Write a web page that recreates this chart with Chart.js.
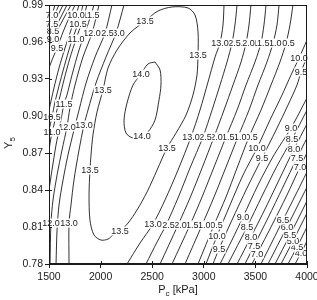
<!DOCTYPE html>
<html>
<head>
<meta charset="utf-8">
<script src="https://cdn.jsdelivr.net/npm/chart.js@4.4.0/dist/chart.umd.min.js"></script>
<style>
  html, body { margin: 0; padding: 0; background: #fff; }
  #wrap { width: 317px; height: 300px; }
</style>
</head>
<body>
<div id="wrap"><canvas id="chart"></canvas></div>
<script>
const xTicks = [1500, 2000, 2500, 3000, 3500, 4000];
const yTicks = [0.78, 0.81, 0.84, 0.87, 0.90, 0.93, 0.96, 0.99];

// contour level of every traced line
const levels = [14.0, 13.5,
  13.0, 12.5, 12.0, 11.5, 11.0, 10.5, 10.0, 9.5, 9.0, 8.5, 8.0, 7.5, 7.0,
  13.0, 12.5, 12.0, 11.5, 11.0, 10.5, 10.0, 9.5, 9.0, 8.5, 8.0, 7.5, 7.0,
  6.5, 6.0, 5.5, 5.0, 4.5, 4.0];

// traced lines, [P, Y5] pairs
const contourPts = [
  [[2527,.9438],[2576,.9373],[2585,.9251],[2566,.9130],[2527,.8967],[2459,.8870],[2401,.8838],[2314,.8822],[2246,.8862],[2227,.8967],[2256,.9105],[2314,.9251],[2391,.9340],[2459,.9422],[2527,.9438]],
  [[2430,.9770],[2285,.9673],[2159,.9535],[2072,.9389],[2023,.9210],[1965,.9032],[1926,.8846],[1907,.8684],[1897,.8562],[1888,.8359],[1897,.8156],[1936,.8035],[2004,.7994],[2072,.8002],[2120,.8035],[2188,.8067],[2266,.8132],[2353,.8238],[2450,.8384],[2547,.8562],[2643,.8740],[2731,.8862],[2828,.9008],[2895,.9170],[2934,.9332],[2944,.9495],[2944,.9681],[2915,.9819],[2847,.9876],[2692,.9884],[2556,.9851],[2430,.9770]],
  // left side
  [[2227,.9900],[2149,.9673],[2052,.9478],[1955,.9267],[1878,.9048],[1839,.8927],[1791,.8724],[1742,.8481],[1713,.8278],[1694,.8132],[1694,.7800]],
  [[2110,.9900],[2043,.9673],[1946,.9478],[1859,.9267],[1791,.9048],[1742,.8886],[1684,.8684],[1636,.8481],[1597,.8278],[1578,.8076],[1568,.7800]],
  [[1985,.9900],[1917,.9673],[1829,.9478],[1752,.9251],[1703,.9065],[1674,.8911],[1626,.8724],[1578,.8521],[1539,.8319],[1519,.8132],[1510,.7800]],
  [[1936,.9900],[1907,.9819],[1859,.9697],[1791,.9535],[1723,.9332],[1674,.9170],[1645,.9097],[1607,.8927],[1568,.8765],[1529,.8562],[1500,.8400]],
  [[1868,.9900],[1820,.9762],[1762,.9624],[1703,.9470],[1645,.9292],[1587,.9089],[1548,.8927],[1529,.8870],[1500,.8724]],
  [[1829,.9900],[1781,.9746],[1723,.9616],[1665,.9454],[1607,.9276],[1558,.9113],[1529,.8992],[1500,.8886]],
  [[1791,.9900],[1762,.9819],[1713,.9697],[1655,.9551],[1597,.9389],[1548,.9227],[1500,.9048]],
  [[1752,.9900],[1694,.9795],[1636,.9681],[1578,.9551],[1529,.9454],[1500,.9389]],
  [[1713,.9900],[1645,.9795],[1587,.9705],[1539,.9624],[1500,.9568]],
  [[1674,.9900],[1616,.9803],[1568,.9730],[1539,.9689],[1500,.9624]],
  [[1636,.9900],[1578,.9803],[1529,.9713],[1500,.9657]],
  [[1597,.9900],[1558,.9827],[1529,.9746],[1500,.9681]],
  [[1558,.9900],[1529,.9819],[1500,.9738]],
  // right side
  [[2256,.7800],[2382,.7970],[2508,.8124],[2624,.8319],[2750,.8562],[2876,.8830],[2963,.9048],[3041,.9276],[3109,.9478],[3157,.9592],[3186,.9738],[3196,.9900]],
  [[2440,.7800],[2547,.7978],[2634,.8116],[2750,.8335],[2866,.8578],[2992,.8830],[3080,.9048],[3157,.9251],[3225,.9438],[3273,.9592],[3302,.9738],[3322,.9900]],
  [[2576,.7800],[2750,.8116],[2866,.8335],[2983,.8578],[3099,.8830],[3196,.9048],[3283,.9251],[3361,.9438],[3409,.9592],[3438,.9738],[3457,.9900]],
  [[2692,.7800],[2866,.8116],[2983,.8343],[3099,.8586],[3215,.8830],[3322,.9048],[3409,.9251],[3496,.9438],[3554,.9592],[3583,.9738],[3603,.9900]],
  [[2818,.7800],[2983,.8116],[3099,.8343],[3215,.8586],[3331,.8830],[3438,.9048],[3525,.9251],[3612,.9438],[3671,.9592],[3709,.9738],[3729,.9900]],
  [[2944,.7800],[3099,.8116],[3215,.8343],[3322,.8578],[3438,.8830],[3554,.9048],[3651,.9251],[3738,.9438],[3797,.9592],[3835,.9738],[3864,.9900]],
  [[3021,.7800],[3128,.8027],[3254,.8278],[3380,.8521],[3516,.8740],[3641,.8967],[3758,.9170],[3845,.9332],[3923,.9470],[4000,.9616]],
  [[3089,.7800],[3147,.7921],[3273,.8156],[3419,.8416],[3564,.8659],[3700,.8886],[3816,.9089],[3903,.9251],[3942,.9357],[4000,.9478]],
  [[3157,.7800],[3273,.7994],[3380,.8181],[3525,.8440],[3680,.8684],[3845,.8902],[4000,.9146]],
  [[3234,.7800],[3419,.8100],[3564,.8351],[3709,.8594],[3855,.8813],[4000,.9048]],
  [[3322,.7800],[3457,.8019],[3603,.8262],[3738,.8497],[3874,.8732],[4000,.8935]],
  [[3399,.7800],[3486,.7946],[3622,.8173],[3767,.8424],[3903,.8659],[4000,.8822]],
  [[3467,.7800],[3516,.7881],[3661,.8116],[3806,.8359],[3932,.8586],[4000,.8700]],
  [[3554,.7800],[3661,.7978],[3767,.8156],[3884,.8351],[4000,.8546]],
  [[3622,.7800],[3806,.8100],[3903,.8262],[4000,.8424]],
  [[3690,.7800],[3835,.8035],[4000,.8311]],
  [[3748,.7800],[3864,.7986],[4000,.8213]],
  [[3816,.7800],[3903,.7938],[4000,.8100]],
  [[3884,.7800],[3942,.7889],[4000,.7986]]
];

// which points of each line carry the level label
const labelIdx = [
  [6, 12], [0, 4, 8, 15, 20, 25],
  [1, 5, 9], [1], [1, 5, 9], [1, 6], [2, 7], [1, 6], [1], [3], [3], [3], [], [2], [1],
  [2, 5, 9], [2, 5, 9], [1, 4, 8], [1, 4, 8], [1, 4, 8], [1, 4, 8], [1, 4, 8], [1, 4, 8],
  [2, 5], [1, 4], [1, 4], [1, 4], [1, 4], [2], [1], [1], [1], [1], [1]
];

const FONT = '"Liberation Sans", Arial, sans-serif';
const INK = '#1a1a1a';

const contourLabels = {
  id: 'contourLabels',
  afterDatasetsDraw(chart) {
    const ctx = chart.ctx;
    const items = [];
    chart.data.datasets.forEach((ds, i) => {
      const meta = chart.getDatasetMeta(i);
      labelIdx[i].forEach(k => {
        const pt = meta.data[k];
        items.push({ v: levels[i], x: pt.x, y: pt.y });
      });
    });
    // right to left, so a label covers the start of its right neighbour
    items.sort((a, b) => b.x - a.x);
    ctx.save();
    ctx.font = '9px ' + FONT;
    ctx.textAlign = 'center';
    ctx.textBaseline = 'middle';
    items.forEach(it => {
      const s = it.v.toFixed(1);
      const w = ctx.measureText(s).width;
      ctx.fillStyle = '#fff';
      ctx.fillRect(it.x - w / 2 - 0.5, it.y - 4.5, w + 1, 9);
      ctx.fillStyle = INK;
      ctx.fillText(s, it.x, it.y + 0.5);
    });
    ctx.restore();
  }
};

const frameAndTitles = {
  id: 'frameAndTitles',
  afterDraw(chart) {
    const ctx = chart.ctx;
    const a = chart.chartArea;
    const sx = chart.scales.x, sy = chart.scales.y;
    ctx.save();
    ctx.strokeStyle = INK;
    ctx.lineWidth = 1;
    ctx.strokeRect(Math.round(a.left) + 0.5, Math.round(a.top) + 0.5,
      Math.round(a.right - a.left) - 1, Math.round(a.bottom - a.top) - 1);
    ctx.beginPath();
    xTicks.forEach(v => {
      const x = Math.round(sx.getPixelForValue(v)) + 0.5;
      ctx.moveTo(x, a.bottom);
      ctx.lineTo(x, a.bottom - 3);
    });
    yTicks.forEach(v => {
      const y = Math.round(sy.getPixelForValue(v)) + 0.5;
      ctx.moveTo(a.left, y);
      ctx.lineTo(a.left + 3, y);
    });
    ctx.stroke();

    // x title: P_c [kPa]
    ctx.fillStyle = INK;
    ctx.textBaseline = 'alphabetic';
    ctx.textAlign = 'left';
    const big = '11px ' + FONT, small = '8px ' + FONT;
    ctx.font = big;
    const wP = ctx.measureText('P').width;
    const wRest = ctx.measureText(' [kPa]').width;
    ctx.font = small;
    const wSub = ctx.measureText('c').width;
    let x0 = (a.left + a.right) / 2 - (wP + wSub + wRest) / 2;
    const base = 293;
    ctx.font = big; ctx.fillText('P', x0, base);
    ctx.font = small; ctx.fillText('c', x0 + wP, base + 3);
    ctx.font = big; ctx.fillText(' [kPa]', x0 + wP + wSub, base);

    // y title: Y_5
    ctx.translate(12, 143);
    ctx.rotate(-Math.PI / 2);
    ctx.font = big;
    const wY = ctx.measureText('Y').width;
    ctx.font = small;
    const w5 = ctx.measureText('5').width;
    const y0 = -(wY + w5) / 2;
    ctx.font = big; ctx.fillText('Y', y0, 0);
    ctx.font = small; ctx.fillText('5', y0 + wY, 3);
    ctx.restore();
  }
};

const datasets = contourPts.map(pts => ({
  data: pts.map(p => ({ x: p[0], y: p[1] })),
  showLine: true,
  pointRadius: 0,
  borderColor: INK,
  borderWidth: 0.9,
  tension: 0.3,
  fill: false
}));

new Chart(document.getElementById('chart'), {
  type: 'scatter',
  data: { datasets: datasets },
  options: {
    responsive: true,
    maintainAspectRatio: false,
    animation: false,
    devicePixelRatio: 1,
    layout: { padding: { top: 5, right: 10, left: 0, bottom: 0 } },
    plugins: { legend: { display: false }, tooltip: { enabled: false } },
    scales: {
      x: {
        type: 'linear',
        min: 1500,
        max: 4000,
        afterBuildTicks: s => { s.ticks = xTicks.map(v => ({ value: v })); },
        afterFit: s => { s.height = 36; s.paddingLeft = 0; s.paddingRight = 0; },
        ticks: {
          color: INK,
          padding: 3,
          maxRotation: 0,
          autoSkip: false,
          font: { family: FONT, size: 10.5 },
          callback: v => String(v)
        },
        grid: { drawOnChartArea: false, drawTicks: true, tickLength: 4, color: INK },
        border: { color: INK, width: 1 }
      },
      y: {
        type: 'linear',
        min: 0.78,
        max: 0.99,
        afterBuildTicks: s => { s.ticks = yTicks.map(v => ({ value: v })); },
        afterFit: s => { s.width = 49; s.paddingTop = 0; s.paddingBottom = 0; },
        ticks: {
          color: INK,
          padding: 2,
          autoSkip: false,
          font: { family: FONT, size: 10.5 },
          callback: v => v.toFixed(2)
        },
        grid: { drawOnChartArea: false, drawTicks: true, tickLength: 4, color: INK },
        border: { color: INK, width: 1 }
      }
    }
  },
  plugins: [contourLabels, frameAndTitles]
});
</script>
</body>
</html>
